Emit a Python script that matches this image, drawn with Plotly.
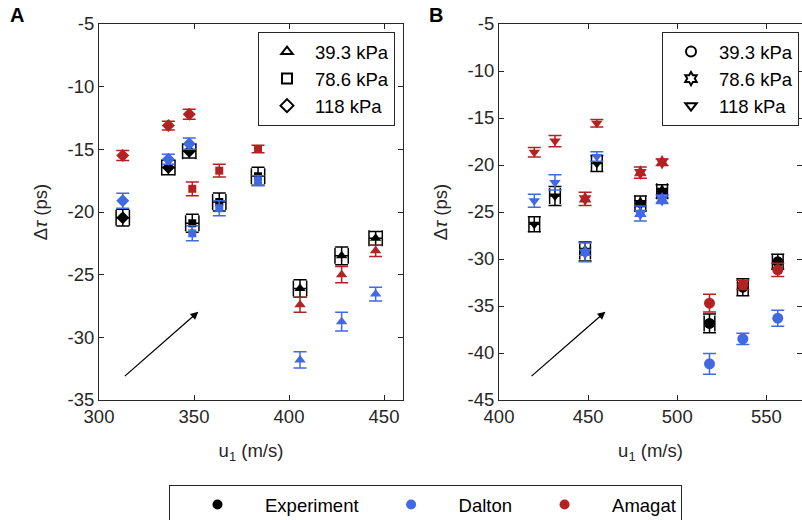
import plotly.graph_objects as go

# ---------------- data ----------------
pressures = ["39.3 kPa", "78.6 kPa", "118 kPa"]
models = ["Experiment", "Dalton", "Amagat"]

# Panel A: u1 per pressure group
A_u1 = {
    "39.3 kPa": [405.8, 427.7, 445.6],
    "78.6 kPa": [349.1, 363.3, 383.7],
    "118 kPa": [312.5, 336.5, 347.5],
}
A_exp = {"39.3 kPa": [-26.1, -23.5, -22.1], "78.6 kPa": [-20.9, -19.2, -17.15], "118 kPa": [-20.45, -16.45, -15.15]}
A_exp_err = {"39.3 kPa": [0.7, 0.7, 0.55], "78.6 kPa": [0.72, 0.72, 0.72], "118 kPa": [0.67, 0.57, 0.55]}
A_dal = {"39.3 kPa": [-31.8, -28.75, -26.55], "78.6 kPa": [-21.7, -19.7, -17.5], "118 kPa": [-19.1, -15.8, -14.55]}
A_dal_err = {"39.3 kPa": [0.65, 0.75, 0.55], "78.6 kPa": [0.6, 0.6, 0.4], "118 kPa": [0.6, 0.4, 0.45]}
A_ama = {"39.3 kPa": [-27.4, -25.0, -23.1], "78.6 kPa": [-18.15, -16.7, -14.97], "118 kPa": [-15.5, -13.1, -12.2]}
A_ama_err = {"39.3 kPa": [0.6, 0.65, 0.45], "78.6 kPa": [0.55, 0.5, 0.3], "118 kPa": [0.4, 0.35, 0.4]}
A_u1_err = [3.5, 3.5, 3.5]

# Panel B
B_u1 = {
    "39.3 kPa": [518.1, 536.8, 556.4],
    "78.6 kPa": [448.3, 479.3, 491.5],
    "118 kPa": [419.8, 431.4, 454.9],
}
B_exp = {"39.3 kPa": [-36.85, -33.0, -30.3], "78.6 kPa": [-29.2, -24.1, -22.8], "118 kPa": [-26.3, -23.3, -19.85]}
B_exp_err = {"39.3 kPa": [1.0, 0.9, 0.8], "78.6 kPa": [1.0, 0.8, 0.7], "118 kPa": [0.8, 1.0, 0.85]}
B_dal = {"39.3 kPa": [-41.15, -38.5, -36.3], "78.6 kPa": [-29.3, -25.15, -23.65], "118 kPa": [-23.8, -21.85, -19.1]}
B_dal_err = {"39.3 kPa": [1.1, 0.6, 0.85], "78.6 kPa": [1.0, 0.8, 0.45], "118 kPa": [0.7, 0.8, 0.5]}
B_ama = {"39.3 kPa": [-34.7, -32.75, -31.15], "78.6 kPa": [-23.6, -20.8, -19.7], "118 kPa": [-18.65, -17.45, -15.55]}
B_ama_err = {"39.3 kPa": [0.95, 0.5, 0.7], "78.6 kPa": [0.7, 0.6, 0.35], "118 kPa": [0.5, 0.6, 0.4]}
B_u1_err = [3.0, 3.0, 3.0]

# arrows (tail x, tail y, head x, head y)
A_arrow = [312.8, -33.2, 352.3, -27.96]
B_arrow = [417.4, -42.6, 459.7, -35.6]

A_xticks = [300, 350, 400, 450]
A_yticks = [-35, -30, -25, -20, -15, -10, -5]
B_xticks = [400, 450, 500, 550]
B_yticks = [-45, -40, -35, -30, -25, -20, -15, -10, -5]

# ---------------- styles ----------------
FONT = "Liberation Sans, Arial, sans-serif"
TXT = "#262626"
FS = 18.5
colors = {"Experiment": "#000000", "Dalton": "#4169E1", "Amagat": "#B22222"}
A_sym = {"39.3 kPa": "triangle-up", "78.6 kPa": "square", "118 kPa": "diamond"}
B_sym = {"39.3 kPa": "circle", "78.6 kPa": "hexagram", "118 kPa": "triangle-down"}
sym_size = {"triangle-up": 10, "square": 8, "diamond": 10, "circle": 11, "hexagram": 11, "triangle-down": 10}

fig = go.Figure()

def add_panel(xa, ya, u1, exp, exp_err, dal, dal_err, ama, ama_err, u1_err, syms):
    for p in pressures:
        s = syms[p]
        for m, (yv, ye) in zip(models, [(exp, exp_err), (dal, dal_err), (ama, ama_err)]):
            c = colors[m]
            kw = {}
            if m == "Experiment":
                kw["error_x"] = dict(type="data", array=u1_err, color=c, thickness=1.5, width=8)
            fig.add_trace(go.Scatter(
                x=u1[p], y=yv[p], mode="markers", xaxis=xa, yaxis=ya,
                marker=dict(symbol=s, size=sym_size[s], color=c, line=dict(width=0)),
                error_y=dict(type="data", array=ye[p], color=c, thickness=1.5, width=6.5),
                showlegend=False, **kw))

add_panel("x", "y", A_u1, A_exp, A_exp_err, A_dal, A_dal_err, A_ama, A_ama_err, A_u1_err, A_sym)
add_panel("x2", "y2", B_u1, B_exp, B_exp_err, B_dal, B_dal_err, B_ama, B_ama_err, B_u1_err, B_sym)

# bottom legend (model colours)
for m in models:
    fig.add_trace(go.Scatter(x=[None], y=[None], mode="markers", name=m,
                             marker=dict(symbol="circle", size=10, color=colors[m]),
                             legend="legend", xaxis="x", yaxis="y"))
# pressure legends
for p in pressures:
    fig.add_trace(go.Scatter(x=[None], y=[None], mode="markers", name=p,
                             marker=dict(symbol=A_sym[p] + "-open", size=10, color="black",
                                         line=dict(width=2, color="black")),
                             legend="legend2", xaxis="x", yaxis="y"))
for p in pressures:
    fig.add_trace(go.Scatter(x=[None], y=[None], mode="markers", name=p,
                             marker=dict(symbol=B_sym[p] + "-open", size=10, color="black",
                                         line=dict(width=2, color="black")),
                             legend="legend3", xaxis="x2", yaxis="y2"))

W, H = 802, 520
def px_x(v): return v / W
def px_y(v): return 1 - v / H

axis_common = dict(showline=True, linecolor=TXT, linewidth=1, mirror="ticks", ticks="inside",
                   ticklen=5, tickcolor=TXT, showgrid=False, zeroline=False, automargin=False,
                   tickfont=dict(family=FONT, size=FS, color=TXT))
title_font = dict(family=FONT, size=FS, color=TXT)

fig.update_layout(
    template="none",
    width=W, height=H, margin=dict(l=0, r=0, t=0, b=0, autoexpand=False),
    paper_bgcolor="white", plot_bgcolor="white",
    font=dict(family=FONT, size=FS, color="black"),
    xaxis=dict(domain=[px_x(99), px_x(403)], range=[300, 460], tickvals=A_xticks,
               ticktext=[str(v) for v in A_xticks], anchor="y",
               title=dict(text="u<sub>1</sub> (m/s)", font=title_font, standoff=17),
               **axis_common),
    yaxis=dict(domain=[px_y(400), px_y(24)], range=[-35, -5], tickvals=A_yticks,
               ticktext=[str(v) for v in A_yticks], anchor="x",
               title=dict(text="Δ<i>τ</i> (ps)", font=title_font, standoff=15),
               **axis_common),
    xaxis2=dict(domain=[px_x(499), 1.0], range=[400, 570], tickvals=B_xticks,
                ticktext=[str(v) for v in B_xticks], anchor="y2",
                title=dict(text="u<sub>1</sub> (m/s)", font=title_font, standoff=17),
                **axis_common),
    yaxis2=dict(domain=[px_y(400), px_y(24)], range=[-45, -5], tickvals=B_yticks,
                ticktext=[str(v) for v in B_yticks], anchor="x2",
                title=dict(text="Δ<i>τ</i> (ps)", font=title_font, standoff=15),
                **axis_common),
    legend=dict(orientation="h", x=px_x(169), xanchor="left", y=px_y(485), yanchor="top",
                bordercolor=TXT, borderwidth=1, bgcolor="white", itemwidth=85,
                font=dict(family=FONT, size=FS, color="black")),
    legend2=dict(x=px_x(395), xanchor="right", y=px_y(32), yanchor="top",
                 bordercolor=TXT, borderwidth=1, bgcolor="white", itemwidth=46,
                 font=dict(family=FONT, size=FS, color="black")),
    legend3=dict(x=px_x(799), xanchor="right", y=px_y(32), yanchor="top",
                 bordercolor=TXT, borderwidth=1, bgcolor="white", itemwidth=46,
                 font=dict(family=FONT, size=FS, color="black")),
    showlegend=True,
)

for xa, ya, arr in [("x", "y", A_arrow), ("x2", "y2", B_arrow)]:
    fig.add_annotation(x=arr[2], y=arr[3], ax=arr[0], ay=arr[1], xref=xa, yref=ya,
                       axref=xa, ayref=ya, showarrow=True, arrowhead=2, arrowsize=1.2,
                       arrowwidth=1.3, arrowcolor="black", text="")

fig.add_annotation(text="<b>A</b>", x=px_x(16.5), y=px_y(15), xref="paper", yref="paper",
                   xanchor="center", yanchor="middle",
                   showarrow=False, font=dict(family=FONT, size=20, color="black"))
fig.add_annotation(text="<b>B</b>", x=px_x(436), y=px_y(15), xref="paper", yref="paper",
                   xanchor="center", yanchor="middle",
                   showarrow=False, font=dict(family=FONT, size=20, color="black"))

fig.write_html("out.html")
